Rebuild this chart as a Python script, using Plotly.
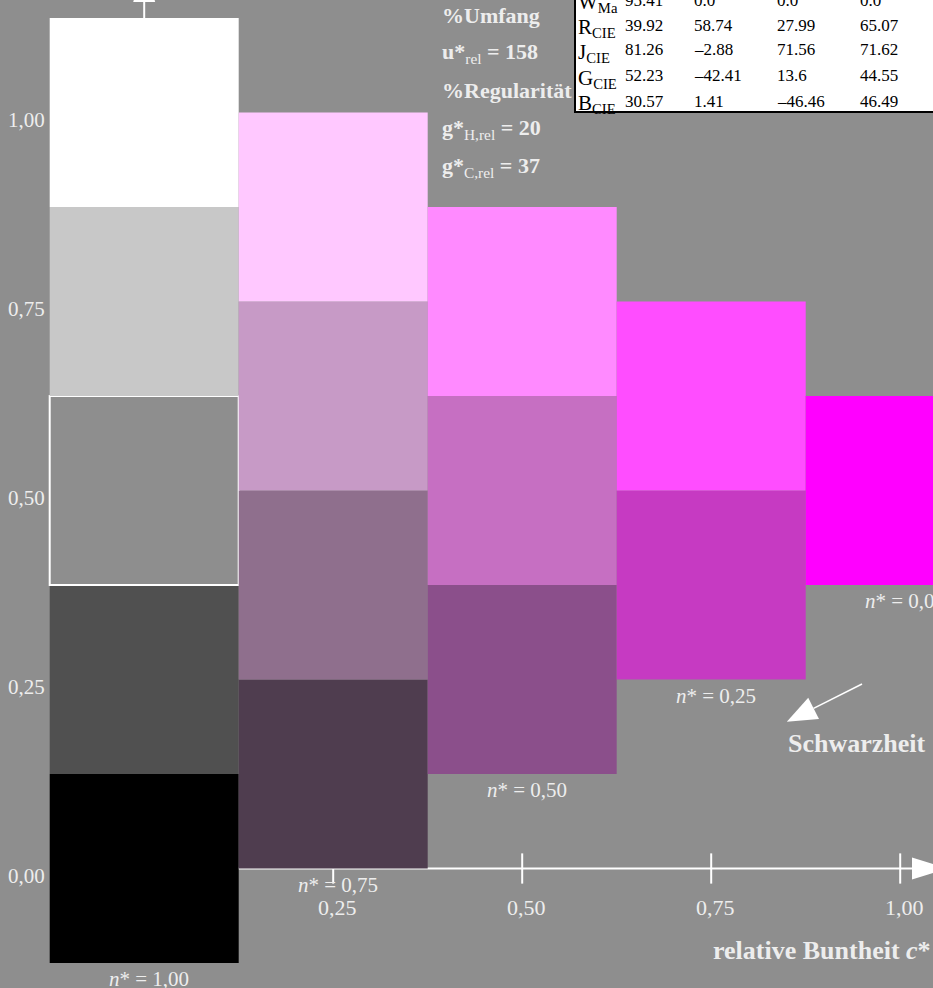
import numpy as np
import plotly.graph_objects as go

# relative chroma c* of each column, and lower edge of its stack of cells
chroma = [0.00, 0.25, 0.50, 0.75, 1.00]
column_bottom = [-0.125, 0.000, 0.125, 0.250, 0.375]
# cell colours per column, from bottom to top
column_colors = [
    ["#000000", "#505050", "#8e8e8e", "#c8c8c8", "#ffffff"],
    ["#4f3d4f", "#8f6f8d", "#c79ac6", "#ffc8ff"],
    ["#8b4f8b", "#c66fc2", "#ff8aff"],
    ["#c63ac2", "#ff4dff"],
    ["#ff00ff"],
]
blackness = ["1,00", "0,75", "0,50", "0,25", "0,00"]
cell = 0.25

x_ticks = [0.25, 0.50, 0.75, 1.00]
x_tick_labels = ["0,25", "0,50", "0,75", "1,00"]
y_ticks = [0.00, 0.25, 0.50, 0.75, 1.00]
y_tick_labels = ["0,00", "0,25", "0,50", "0,75", "1,00"]

table_rows = ["W<sub>Ma</sub>", "R<sub>CIE</sub>", "J<sub>CIE</sub>", "G<sub>CIE</sub>", "B<sub>CIE</sub>"]
table_L = ["95.41", "39.92", "81.26", "52.23", "30.57"]
table_a = ["0.0", "58.74", "–2.88", "–42.41", "1.41"]
table_b = ["0.0", "27.99", "71.56", "13.6", "–46.46"]
table_c = ["0.0", "65.07", "71.62", "44.55", "46.49"]

info_lines = [
    "<b>%Umfang</b>",
    "<b>u*</b><sub>rel</sub><b> = 158</b>",
    "<b>%Regularität</b>",
    "<b>g*</b><sub>H,rel</sub><b> = 20</b>",
    "<b>g*</b><sub>C,rel</sub><b> = 37</b>",
]

W, H = 933, 988
BG = "#8e8e8e"
TXT = "#ededed"
SERIF = "Liberation Serif, Times New Roman, serif"
UNIT = 756.0           # pixels per unit on both axes
X0_PX, Y0_PX = 144.2, 868.5


def px(x):
    return x / W


def py(y):
    return 1 - y / H


# cells as stacked bars
xs, bases, colors, widths = [], [], [], []
for c, bottom, cols in zip(chroma, column_bottom, column_colors):
    for k, col in enumerate(cols):
        xs.append(c)
        bases.append(bottom + k * cell)
        colors.append(col)
        widths.append(2 if col == BG else 0)

fig = go.Figure()
fig.add_trace(go.Bar(
    x=xs, y=[cell] * len(xs), base=bases, width=cell,
    marker=dict(color=colors, line=dict(color="white", width=widths)),
    hoverinfo="skip", showlegend=False,
))

shapes = []
# x axis with arrow
ax_end = 1.0156
shapes.append(dict(type="line", xref="x", yref="y", x0=0, x1=ax_end, y0=0, y1=0,
                   line=dict(color="white", width=2), layer="below"))
for t in x_ticks:
    shapes.append(dict(type="line", xref="x", yref="y", x0=t, x1=t, y0=-0.02, y1=0.02,
                       line=dict(color="white", width=2), layer="below"))
hw, hl = 11 / UNIT, 36 / UNIT
shapes.append(dict(type="path", xref="x", yref="y",
                   path=f"M{ax_end},{-hw} L{ax_end + hl},0 L{ax_end},{hw} Z",
                   fillcolor="white", line=dict(width=0), layer="below"))
# y axis with arrow
ay_end = 1.1462
shapes.append(dict(type="line", xref="x", yref="y", x0=0, x1=0, y0=-0.125, y1=ay_end,
                   line=dict(color="white", width=2), layer="below"))
shapes.append(dict(type="path", xref="x", yref="y",
                   path=f"M{-hw},{ay_end} L0,{ay_end + hl} L{hw},{ay_end} Z",
                   fillcolor="white", line=dict(width=0), layer="below"))

# arrow pointing to "Schwarzheit"
tail = np.array([0.9495, 0.244])
tip = np.array([0.850, 0.194])
d = (tip - tail) / np.linalg.norm(tip - tail)
n = np.array([-d[1], d[0]])
base = tip - d * (30 / UNIT)
p1 = base + n * (12 / UNIT)
p2 = base - n * (12 / UNIT)
shapes.append(dict(type="line", xref="x", yref="y", x0=tail[0], y0=tail[1], x1=base[0], y1=base[1],
                   line=dict(color="white", width=1.5)))
shapes.append(dict(type="path", xref="x", yref="y",
                   path=f"M{tip[0]},{tip[1]} L{p1[0]},{p1[1]} L{p2[0]},{p2[1]} Z",
                   fillcolor="white", line=dict(width=0)))

# table box
shapes.append(dict(type="rect", xref="paper", yref="paper",
                   x0=px(575), x1=px(960), y0=py(112), y1=py(-40),
                   fillcolor="white", line=dict(color="black", width=2)))

ann = []
for t, lab in zip(y_ticks, y_tick_labels):
    ann.append(dict(x=px(47), xref="paper", y=t, yref="y", yshift=-7, text=lab,
                    xanchor="right", yanchor="middle", showarrow=False,
                    font=dict(size=21, color=TXT)))
for t, lab in zip(x_ticks, x_tick_labels):
    ann.append(dict(x=t, xref="x", y=py(907), yref="paper", xshift=4, text=lab,
                    xanchor="center", yanchor="middle", showarrow=False,
                    font=dict(size=22, color=TXT)))
for c, bottom, lab in zip(chroma, column_bottom, blackness):
    ann.append(dict(x=c, xref="x", y=bottom, yref="y", yshift=-2, xshift=5,
                    text=f"<i>n</i>* = {lab}", xanchor="center", yanchor="top",
                    showarrow=False, font=dict(size=21, color=TXT)))

for i, line in enumerate(info_lines):
    ann.append(dict(x=px(440), xref="paper", y=py(15 + i * 38), yref="paper", text=line,
                    xanchor="left", yanchor="middle", showarrow=False,
                    font=dict(size=22, color=TXT)))

ann.append(dict(x=px(786), xref="paper", y=py(743), yref="paper", text="<b>Schwarzheit</b>",
                xanchor="left", yanchor="middle", showarrow=False, font=dict(size=26, color=TXT)))
ann.append(dict(x=px(711), xref="paper", y=py(950), yref="paper",
                text="<b>relative Buntheit <i>c</i>*</b>",
                xanchor="left", yanchor="middle", showarrow=False, font=dict(size=26, color=TXT)))

row_y = [0, 25, 50, 76, 101]
col_x = [623, 692, 775, 858]
for r, ypix in enumerate(row_y):
    ann.append(dict(x=px(576), xref="paper", y=py(ypix + 3), yref="paper", text=table_rows[r],
                    xanchor="left", yanchor="middle", showarrow=False,
                    font=dict(size=21, color="black")))
    for xpix, vals in zip(col_x, [table_L, table_a, table_b, table_c]):
        ann.append(dict(x=px(xpix), xref="paper", y=py(ypix), yref="paper", text=vals[r],
                        xanchor="left", yanchor="middle", showarrow=False,
                        font=dict(size=17, color="black")))

fig.update_layout(
    width=W, height=H, margin=dict(l=0, r=0, t=0, b=0),
    paper_bgcolor=BG, plot_bgcolor=BG, barmode="overlay",
    font=dict(family=SERIF),
    xaxis=dict(range=[-X0_PX / UNIT, (W - X0_PX) / UNIT], visible=False, fixedrange=True),
    yaxis=dict(range=[(Y0_PX - H) / UNIT, Y0_PX / UNIT], visible=False, fixedrange=True),
    shapes=shapes, annotations=ann,
)

fig.write_html("out.html", config={"staticPlot": True},
               post_script="document.body.style.margin='0';document.body.style.overflow='hidden';")
